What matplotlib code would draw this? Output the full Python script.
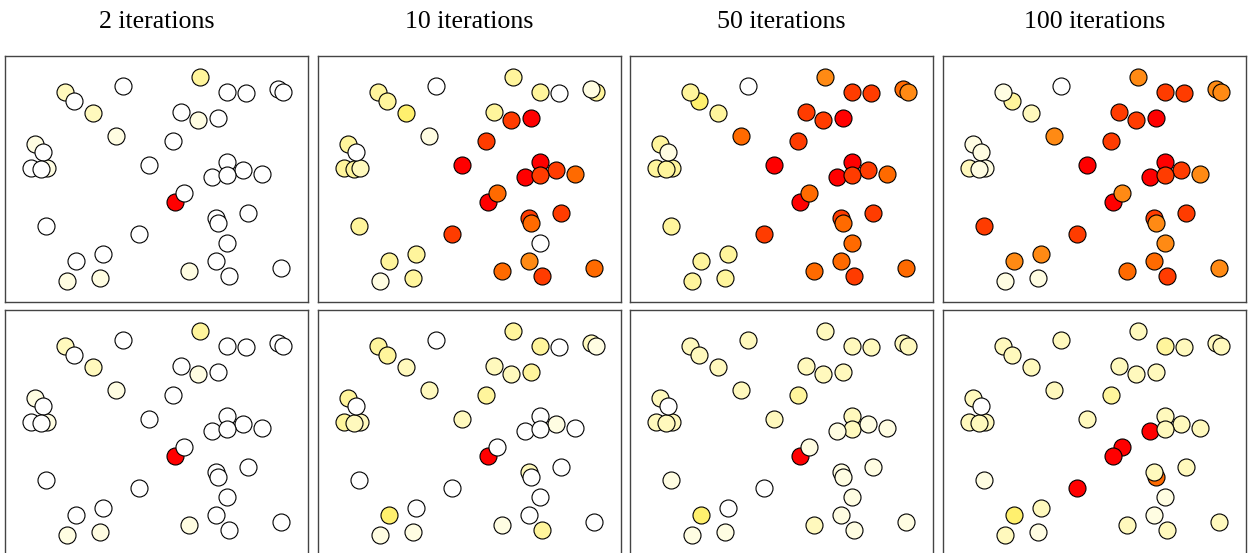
import numpy as np
import matplotlib
matplotlib.use("Agg")
import matplotlib.pyplot as plt
from matplotlib.colors import ListedColormap

# point layout (same in every panel), arbitrary units, y grows downward
x = [602, 370, 196, 222, 280, 685, 741, 838, 853, 545, 596, 656, 348, 522,
     104, 128, 92, 143, 124, 448, 685, 733, 640, 685, 790, 554, 528, 748,
     652, 658, 139, 419, 684, 309, 230, 651, 569, 846, 691, 201, 301]
y = [80, 107, 127, 152, 188, 125, 129, 117, 125, 186, 210, 203, 258, 273,
     281, 305, 355, 355, 358, 344, 336, 361, 380, 376, 372, 428, 455, 487,
     502, 519, 527, 552, 579, 611, 633, 631, 661, 654, 677, 693, 684]

titles = ["2 iterations", "10 iterations", "50 iterations", "100 iterations"]

# colour level per point (0 = white ... 8 = red)
top_2 = [3, 0, 2, 0, 2, 0, 0, 0, 0, 0, 1, 0, 1, 0, 1, 0, 0, 1, 0, 0, 0,
         0, 0, 0, 0, 0, 8, 0, 0, 0, 0, 0, 0, 0, 0, 0, 1, 0, 0, 1, 1]
top_10 = [3, 0, 3, 3, 4, 3, 0, 1, 3, 3, 7, 8, 1, 7, 3, 0, 3, 2, 3, 8, 8,
          7, 8, 7, 6, 6, 8, 7, 7, 6, 3, 7, 0, 3, 3, 5, 6, 6, 7, 1, 3]
top_50 = [5, 0, 3, 4, 3, 7, 7, 6, 5, 7, 7, 8, 6, 7, 3, 1, 3, 3, 3, 8, 8,
          7, 8, 7, 6, 6, 8, 7, 7, 6, 3, 7, 6, 3, 3, 6, 6, 6, 7, 3, 3]
top_100 = [5, 0, 1, 3, 2, 7, 7, 5, 5, 7, 7, 8, 5, 7, 1, 1, 2, 1, 1, 8, 8,
           7, 8, 7, 5, 5, 8, 7, 7, 5, 7, 7, 5, 5, 5, 6, 6, 5, 7, 1, 1]
bot_2 = list(top_2)
bot_10 = [3, 0, 3, 3, 2, 3, 0, 2, 1, 2, 2, 3, 2, 3, 3, 0, 3, 2, 2, 2, 0,
          1, 0, 0, 0, 0, 8, 0, 2, 0, 0, 0, 0, 0, 4, 0, 1, 0, 3, 1, 1]
bot_50 = [2, 2, 2, 2, 2, 2, 2, 2, 2, 2, 2, 2, 2, 3, 2, 0, 2, 2, 2, 2, 2,
          1, 1, 2, 1, 1, 8, 1, 1, 1, 1, 0, 1, 0, 4, 1, 2, 1, 1, 1, 1]
bot_100 = [2, 2, 2, 2, 2, 3, 2, 2, 2, 2, 2, 2, 2, 3, 2, 0, 2, 2, 2, 2, 2,
           2, 8, 2, 2, 8, 8, 2, 2, 6, 1, 8, 1, 2, 4, 1, 2, 2, 2, 2, 1]

rows = [[top_2, top_10, top_50, top_100], [bot_2, bot_10, bot_50, bot_100]]

cmap = ListedColormap(["#ffffff", "#fffde2", "#fff9bd", "#fff59c", "#fff06e",
                       "#ff8a14", "#ff6a00", "#ff3c00", "#ff0000"])

W, H = 1248, 553
fig = plt.figure(figsize=(W / 100, H / 100), dpi=100)

lefts = [5, 318, 630, 943]
tops = [56, 310]
pw, ph = 303, 246

for r, levels_row in enumerate(rows):
    for c, levels in enumerate(levels_row):
        ax = fig.add_axes([lefts[c] / W, 1 - (tops[r] + ph) / H, pw / W, ph / H])
        lv = np.array(levels)
        # lighter points end up on top
        for k in np.argsort(-lv, kind="stable"):
            ax.scatter(x[k], y[k], c=[lv[k]], cmap=cmap, vmin=-0.5, vmax=8.5,
                       s=150, edgecolors="black", linewidths=0.8,
                       zorder=10 - lv[k])
        ax.set_xlim(15, 928)
        ax.set_ylim(755, 18)
        ax.set_xticks([])
        ax.set_yticks([])
        for sp in ax.spines.values():
            sp.set_color("#444444")
            sp.set_linewidth(1.0)

for c, t in enumerate(titles):
    fig.text((lefts[c] + pw / 2) / W, 1 - 22 / H, t, ha="center", va="center",
             fontsize=18.6, family="Liberation Serif")

fig.savefig("out.png", dpi=100)
